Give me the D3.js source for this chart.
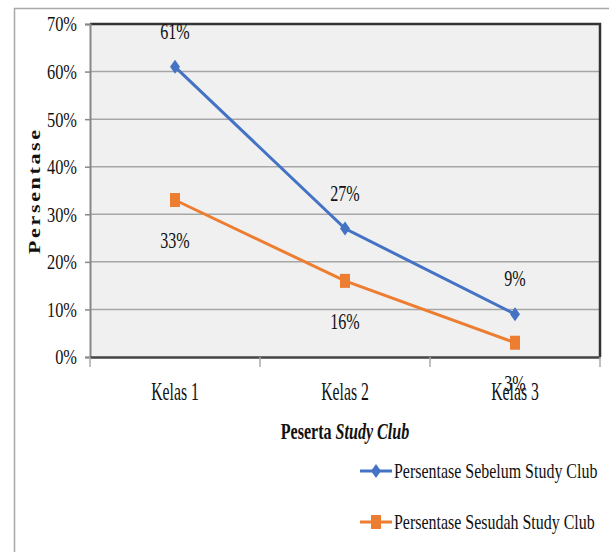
<!DOCTYPE html>
<html>
<head>
<meta charset="utf-8">
<script src="https://cdn.jsdelivr.net/npm/d3@7"></script>
<style>
  html, body { margin: 0; padding: 0; background: #fff; }
  svg { display: block; }
  text { font-family: "Liberation Serif", "Times New Roman", serif; fill: #111; }
</style>
</head>
<body>
<svg id="chart" width="609" height="552"></svg>
<script>
// Chart data
const categories = ["Kelas 1", "Kelas 2", "Kelas 3"];
const sebelum = [61, 27, 9];
const sesudah = [33, 16, 3];
const yTicks = [0, 10, 20, 30, 40, 50, 60, 70];
const seriesNames = ["Persentase Sebelum Study Club", "Persentase Sesudah Study Club"];

const svg = d3.select("#chart");
const W = 609, H = 552;
const plot = { left: 90, top: 24, right: 600, bottom: 357 };

const blue = "#4472C4", orange = "#ED7D31";

// outer frame
svg.append("line").attr("x1", 14).attr("x2", W).attr("y1", 8.5).attr("y2", 8.5)
  .attr("stroke", "#a8a8a8").attr("stroke-width", 1.5);
svg.append("line").attr("x1", 14.5).attr("x2", 14.5).attr("y1", 8).attr("y2", H)
  .attr("stroke", "#a8a8a8").attr("stroke-width", 1.5);

const x = d3.scaleBand().domain(categories).range([plot.left, plot.right]);
const y = d3.scaleLinear().domain([0, 70]).range([plot.bottom, plot.top]);

// plot background
svg.append("rect").attr("x", plot.left).attr("y", plot.top)
  .attr("width", plot.right - plot.left).attr("height", plot.bottom - plot.top)
  .attr("fill", "#f0f0f0");

// gridlines
svg.append("g").selectAll("line").data(yTicks.filter(t => t > 0 && t < 70)).join("line")
  .attr("x1", plot.left).attr("x2", plot.right)
  .attr("y1", d => y(d)).attr("y2", d => y(d))
  .attr("stroke", "#a6a6a6").attr("stroke-width", 1.5);

// frame of plot: dark top and right
svg.append("path")
  .attr("d", `M${plot.left},${plot.top}H${plot.right}V${plot.bottom}`)
  .attr("fill", "none").attr("stroke", "#333").attr("stroke-width", 2.5);

// y axis
const TICK_SX = 0.78;
const yAxis = svg.append("g").attr("transform", `translate(${plot.left},0)`)
  .call(d3.axisLeft(y).tickValues(yTicks).tickFormat(d => d + "%").tickSize(5).tickPadding(9));
yAxis.select(".domain").attr("stroke", "#888").attr("stroke-width", 2);
yAxis.selectAll(".tick line").attr("stroke", "#888").attr("stroke-width", 1.5);
yAxis.selectAll(".tick text")
  .attr("font-size", 21).attr("fill", "#111")
  .attr("font-family", "Liberation Serif, serif")
  .attr("dy", "0.33em")
  .attr("transform", `scale(${TICK_SX},1)`)
  .attr("x", -13 / TICK_SX);

// x axis
const xAxis = svg.append("g").attr("transform", `translate(0,${plot.bottom})`)
  .call(d3.axisBottom(x).tickSize(0).tickPadding(0));
xAxis.select(".domain").attr("stroke", "#444").attr("stroke-width", 2.5);
xAxis.selectAll(".tick text").remove();
// boundary ticks
const bounds = categories.map(c => x(c)).concat([plot.right]);
svg.append("g").selectAll("line").data(bounds).join("line")
  .attr("x1", d => d).attr("x2", d => d)
  .attr("y1", plot.bottom).attr("y2", plot.bottom + 10)
  .attr("stroke", "#aaa").attr("stroke-width", 1.5);

// category labels
svg.append("g").selectAll("text").data(categories).join("text")
  .attr("transform", d => `translate(${x(d) + x.bandwidth() / 2},400) scale(0.63,1)`)
  .attr("text-anchor", "middle").attr("font-size", 25)
  .text(d => d);

const cx = d => x(d) + x.bandwidth() / 2;
const line = d3.line().x(d => cx(d.cat)).y(d => y(d.v));
const rows = (vals) => vals.map((v, i) => ({ cat: categories[i], v }));

// series lines
svg.append("path").datum(rows(sesudah)).attr("d", line)
  .attr("fill", "none").attr("stroke", orange).attr("stroke-width", 3);
svg.append("path").datum(rows(sebelum)).attr("d", line)
  .attr("fill", "none").attr("stroke", blue).attr("stroke-width", 3);

// markers
const diamond = "M0,-7L5,0L0,7L-5,0Z";
svg.append("g").selectAll("rect").data(rows(sesudah)).join("rect")
  .attr("x", d => cx(d.cat) - 5).attr("y", d => y(d.v) - 7)
  .attr("width", 10).attr("height", 14).attr("fill", orange);
svg.append("g").selectAll("path").data(rows(sebelum)).join("path")
  .attr("d", diamond)
  .attr("transform", d => `translate(${cx(d.cat)},${y(d.v)})`)
  .attr("fill", blue);

// value labels
const LBL_SX = 0.7;
svg.append("g").selectAll("text").data(rows(sebelum)).join("text")
  .attr("transform", d => `translate(${cx(d.cat)},${y(d.v) - 28}) scale(${LBL_SX},1)`)
  .attr("text-anchor", "middle").attr("font-size", 23)
  .text(d => d.v + "%");
svg.append("g").selectAll("text").data(rows(sesudah)).join("text")
  .attr("transform", d => `translate(${cx(d.cat)},${y(d.v) + 48}) scale(${LBL_SX},1)`)
  .attr("text-anchor", "middle").attr("font-size", 23)
  .text(d => d.v + "%");

// y axis title
svg.append("text")
  .attr("transform", `translate(40,192) scale(0.8,1) rotate(-90)`)
  .attr("text-anchor", "middle").attr("font-size", 22).attr("font-weight", "bold")
  .attr("textLength", 124).attr("lengthAdjust", "spacing")
  .text("Persentase");

// x axis title
const xt = svg.append("text")
  .attr("transform", `translate(345,439) scale(0.67,1)`)
  .attr("text-anchor", "middle").attr("font-size", 24).attr("font-weight", "bold");
xt.append("tspan").text("Peserta ");
xt.append("tspan").attr("font-style", "italic").text("Study Club");

// legend
const legend = svg.append("g").selectAll("g").data(seriesNames).join("g")
  .attr("transform", (d, i) => `translate(360,${471 + i * 51})`);
legend.append("line").attr("x1", 0).attr("x2", 32).attr("y1", 0).attr("y2", 0)
  .attr("stroke", (d, i) => i === 0 ? blue : orange).attr("stroke-width", 3);
legend.each(function (d, i) {
  const g = d3.select(this);
  if (i === 0) {
    g.append("path").attr("d", diamond).attr("transform", "translate(16,0)").attr("fill", blue);
  } else {
    g.append("rect").attr("x", 11).attr("y", -7).attr("width", 10).attr("height", 14).attr("fill", orange);
  }
});
legend.append("text")
  .attr("transform", `translate(34,7) scale(0.76,1)`)
  .attr("font-size", 21)
  .text(d => d);
</script>
</body>
</html>
